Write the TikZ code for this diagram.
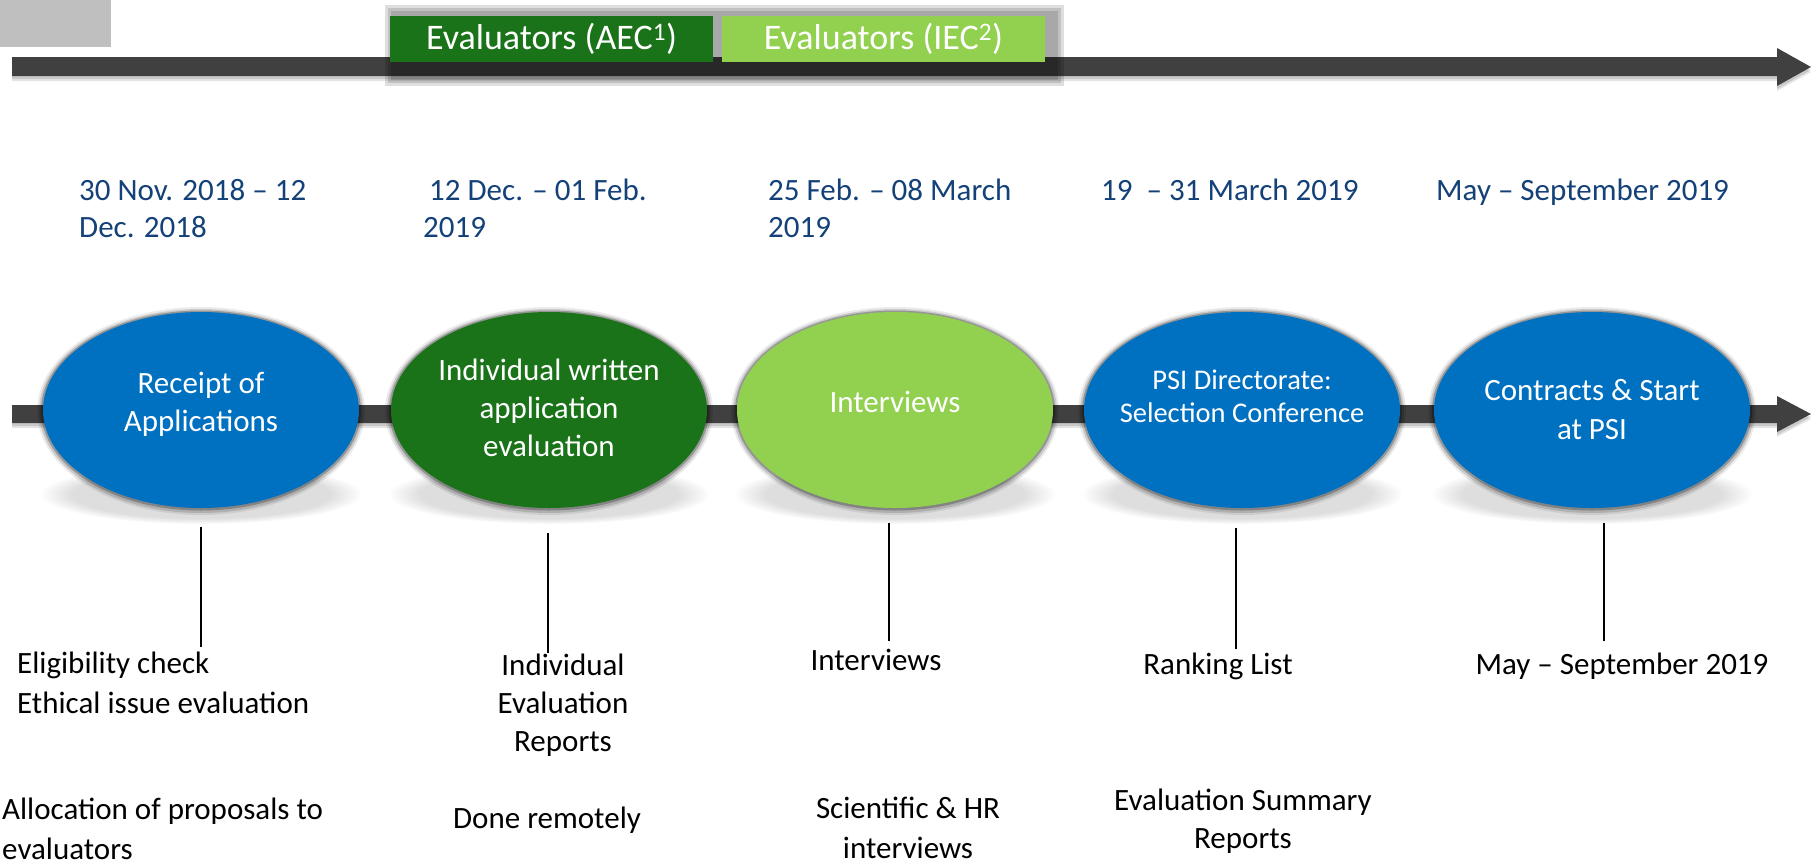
\documentclass[tikz,border=0pt]{standalone}
\usepackage{fontspec}
\setmainfont{Carlito}
\usetikzlibrary{shapes.geometric,fadings}
\definecolor{pblue}{HTML}{0070C0}
\definecolor{dgreen}{HTML}{1A7318}
\definecolor{lgreen}{HTML}{92D050}
\definecolor{barc}{HTML}{404040}
\definecolor{datec}{RGB}{20,65,120}
\definecolor{boxgrey}{HTML}{BFBFBF}
\newcommand{\toparrowpath}[1]{\fill[#1] (12,57) -- (1777,57) -- (1777,48) -- (1811,67) -- (1777,86) -- (1777,76) -- (12,76) -- cycle;}
\newcommand{\midarrowpath}[1]{\fill[#1] (12,405) -- (1777,405) -- (1777,396) -- (1811,414) -- (1777,432) -- (1777,423) -- (12,423) -- cycle;}
\begin{document}
\begin{tikzpicture}[x=1pt,y=-1pt,
  phase/.style={ellipse, minimum width=316pt, minimum height=196pt, inner sep=0pt},
  ptext/.style={text=white, font=\fontsize{31}{38}\selectfont, align=center, inner sep=0pt},
  datetext/.style={text=datec, font=\fontsize{31}{37}\selectfont, align=left, anchor=base west, inner sep=0pt},
  note/.style={text=black, font=\fontsize{31}{39}\selectfont, inner sep=0pt, anchor=base, align=center},
  evalbox/.style={minimum width=323pt, minimum height=46pt, inner sep=0pt, text=white, font=\fontsize{36}{40}\selectfont},
  link/.style={black, line width=2.2pt}]
\useasboundingbox (0,0) rectangle (1820,865);
\fill[white] (0,0) rectangle (1820,865);

% grey box top left
\fill[boxgrey] (0,0) rectangle (111,47);

% top arrow with shadow
\toparrowpath{black,opacity=0.10,shift={(0,5)}}
\toparrowpath{black,opacity=0.12,shift={(0,3)}}
\toparrowpath{barc}

% shadow of evaluator boxes
\foreach \d in {0,3,6} {
  \fill[black,opacity=0.13] (385+\d,5+\d) rectangle (1064-\d,86-\d);
}
\node[evalbox, fill=dgreen] (aec) at (551.5,39) {Evaluators (AEC\textsuperscript{1})};
\node[evalbox, fill=lgreen] (iec) at (883.5,38.5) {Evaluators (IEC\textsuperscript{2})};

% dates (base anchor = last line)
\node[datetext] (d1) at (79,237) {30 Nov. 2018 – 12\\Dec. 2018};
\node[datetext] (d2) at (423,237) {\hspace*{6pt}12 Dec. – 01 Feb.\\2019};
\node[datetext] (d3) at (768,237) {25 Feb. – 08 March\\2019};
\node[datetext] (d4) at (1101,200) {19\ \ – 31 March 2019};
\node[datetext] (d5) at (1436,200) {May – September 2019};

% middle arrow with shadow
\midarrowpath{black,opacity=0.10,shift={(0,5)}}
\midarrowpath{black,opacity=0.12,shift={(0,3)}}
\midarrowpath{barc}

% reflections and glows
\foreach \cx in {201,549,895,1242,1592} {
  \fill[black!13, path fading=circle with fuzzy edge 20 percent] (\cx,494) ellipse [x radius=160pt, y radius=30pt];
  \fill[black,opacity=0.08] (\cx,411) ellipse [x radius=164pt, y radius=104pt];
  \fill[black,opacity=0.14] (\cx,411) ellipse [x radius=162pt, y radius=102pt];
  \fill[black,opacity=0.25] (\cx,410.5) ellipse [x radius=160pt, y radius=100pt];
}

% phases
\node[phase, fill=pblue,
  label={[ptext, yshift=6pt]center:{Receipt of\\Applications}}] (p1) at (201,410) {};
\node[phase, fill=dgreen,
  label={[ptext, yshift=2pt]center:{Individual written\\application\\evaluation}}] (p2) at (549,410) {};
\node[phase, fill=lgreen,
  label={[ptext, yshift=8.5pt]center:{Interviews}}] (p3) at (895,410) {};
\node[phase, fill=pblue,
  label={[ptext, font=\fontsize{28.5}{33}\selectfont, yshift=14pt]center:{PSI Directorate:\\Selection Conference}}] (p4) at (1242,410) {};
\node[phase, fill=pblue,
  label={[ptext, font=\fontsize{31}{39}\selectfont, yshift=0pt]center:{Contracts \& Start\\at PSI}}] (p5) at (1592,410) {};

% notes (base anchor = last line)
\node[note, anchor=base west, align=left, font=\fontsize{31}{40}\selectfont] (n1a) at (17,713) {Eligibility check\\Ethical issue evaluation};
\node[note, anchor=base west, align=left, font=\fontsize{31}{40}\selectfont] (n1b) at (2,859) {Allocation of proposals to\\evaluators};
\node[note, font=\fontsize{31}{38}\selectfont] (n2a) at (563,751) {Individual\\Evaluation\\Reports};
\node[note] (n2b) at (547,828) {Done remotely};
\node[note] (n3a) at (876,670) {Interviews};
\node[note, font=\fontsize{31}{40}\selectfont] (n3b) at (908,858) {Scientific \& HR\\interviews};
\node[note] (n4a) at (1218,674) {Ranking List};
\node[note, font=\fontsize{31}{38}\selectfont] (n4b) at (1243,848) {Evaluation Summary\\Reports};
\node[note] (n5a) at (1622,674) {May – September 2019};

% connectors
\coordinate (c1a) at (201,527); \coordinate (c1b) at (201,647);
\coordinate (c2a) at (548,533); \coordinate (c2b) at (548,653);
\coordinate (c3a) at (889,523); \coordinate (c3b) at (889,641);
\coordinate (c4a) at (1236,528); \coordinate (c4b) at (1236,649);
\coordinate (c5a) at (1604,523); \coordinate (c5b) at (1604,641);
\draw[link] (c1a) -- (c1b);
\draw[link] (c2a) -- (c2b);
\draw[link] (c3a) -- (c3b);
\draw[link] (c4a) -- (c4b);
\draw[link] (c5a) -- (c5b);
\end{tikzpicture}
\end{document}
